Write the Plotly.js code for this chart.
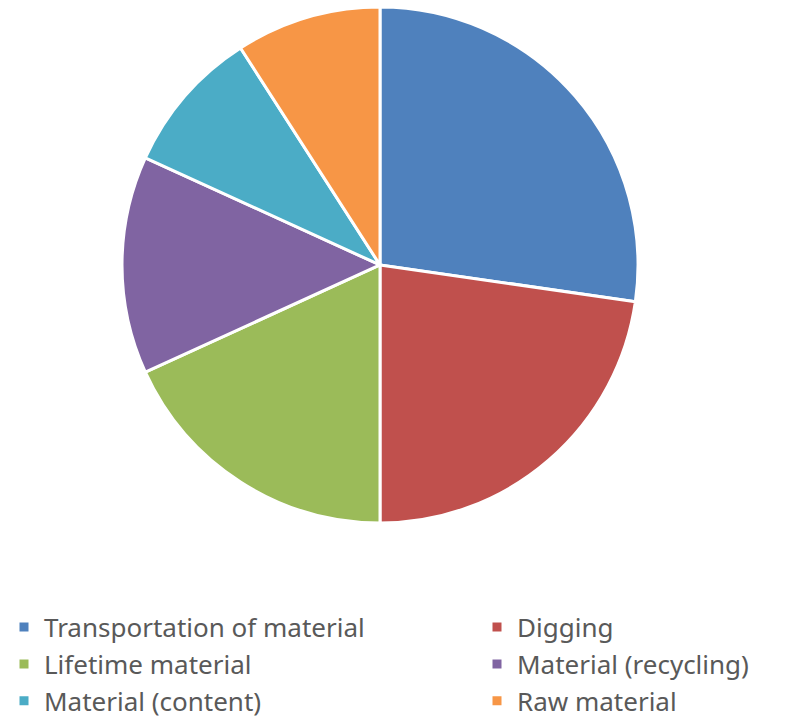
<!DOCTYPE html>
<html><head><meta charset="utf-8">
<script src="https://cdn.plot.ly/plotly-3.0.1.min.js"></script>
<style>html,body{margin:0;padding:0;background:#fff;overflow:hidden;width:787px;height:723px}#chart{width:960px;height:723px}</style>
</head><body><div id="chart"></div>
<script>
const categories = ["Transportation of material", "Digging", "Lifetime material", "Material (recycling)", "Material (content)", "Raw material"];
const values = [6, 5, 4, 3, 2, 2];
const colors = ["#4F81BD", "#C0504D", "#9BBB59", "#8064A2", "#4BACC6", "#F79646"];

const W = 960;
const trace = {
  type: "pie",
  labels: categories,
  values: values,
  sort: false,
  direction: "clockwise",
  rotation: 0,
  textinfo: "none",
  hoverinfo: "label+percent",
  marker: {colors: colors, line: {color: "#ffffff", width: 3}},
  domain: {x: [122 / W, 638 / W], y: [0.276, 0.991]}
};

const layout = {
  width: W, height: 723,
  margin: {l: 0, r: 0, t: 0, b: 0, autoexpand: false},
  paper_bgcolor: "#ffffff",
  showlegend: true,
  legend: {
    orientation: "h",
    x: 4 / W, xanchor: "left",
    y: 0.165, yanchor: "top",
    entrywidth: 428, entrywidthmode: "pixels",
    font: {family: "'Noto Sans', 'Liberation Sans', sans-serif", size: 26, color: "#595959"},
    itemclick: false, itemdoubleclick: false
  }
};

Plotly.newPlot("chart", [trace], layout, {displayModeBar: false, staticPlot: true});
</script></body></html>
